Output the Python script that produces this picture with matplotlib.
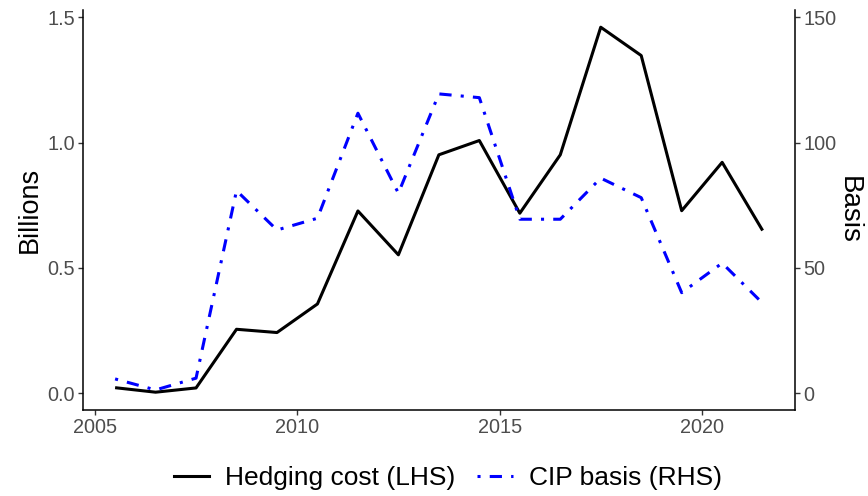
import matplotlib
matplotlib.use("Agg")
import matplotlib.pyplot as plt
from matplotlib.lines import Line2D

plt.rcParams['font.family'] = ['Liberation Sans', 'DejaVu Sans']

years = [2005.5, 2006.5, 2007.5, 2008.5, 2009.5, 2010.5, 2011.5, 2012.5, 2013.5,
         2014.5, 2015.5, 2016.5, 2017.5, 2018.5, 2019.5, 2020.5, 2021.5]
hedging_cost = [0.022, 0.004, 0.021, 0.255, 0.242, 0.356, 0.727, 0.552, 0.951,
                1.008, 0.718, 0.951, 1.460, 1.347, 0.728, 0.921, 0.649]
cip_basis = [5.7, 1.3, 6.0, 80.8, 65.1, 69.8, 111.7, 79.8, 119.4,
             117.9, 69.4, 69.4, 85.8, 78.0, 40.1, 51.9, 35.9]

fig = plt.figure(figsize=(8.68, 4.96), dpi=100)
ax = fig.add_axes([0.0953, 0.1734, 0.8206, 0.8066])
ax2 = ax.twinx()

ax.plot(years, hedging_cost, color='black', lw=2.2, solid_capstyle='butt')
ax2.plot(years, cip_basis, color='blue', lw=2.2, linestyle=(0, (1, 3, 4, 3)),
         dash_capstyle='butt')

ax.set_xlim(2004.7, 2022.3)
ax.set_ylim(-0.067, 1.529)
ax2.set_ylim(-6.7, 152.9)
ax.set_xticks([2005, 2010, 2015, 2020])
ax.set_yticks([0.0, 0.5, 1.0, 1.5])
ax.set_yticklabels(['0.0', '0.5', '1.0', '1.5'])
ax2.set_yticks([0, 50, 100, 150])

for a in (ax, ax2):
    a.spines['top'].set_visible(False)
    for s in a.spines.values():
        s.set_linewidth(1.1)
    a.tick_params(length=3.3, width=1.0, color='#333333', labelcolor='#4D4D4D',
                  labelsize=14.3, pad=2.5)
ax.spines['right'].set_visible(False)
ax2.spines['left'].set_visible(False)
ax2.spines['bottom'].set_visible(False)

ax.set_ylabel('Billions', fontsize=19.5, labelpad=3)
ax2.set_ylabel('Basis', fontsize=20, rotation=270, labelpad=0, va='bottom')

handles = [Line2D([], [], color='black', lw=2.2),
           Line2D([], [], color='blue', lw=2.2, linestyle=(0, (1, 3, 4, 3)))]
fig.legend(handles, ['Hedging cost (LHS)', 'CIP basis (RHS)'], loc='center',
           bbox_to_anchor=(0.516, 0.036), ncol=2, frameon=False, fontsize=19,
           handlelength=1.36, handletextpad=0.6, columnspacing=0.83)

fig.savefig('out.png', dpi=100)
